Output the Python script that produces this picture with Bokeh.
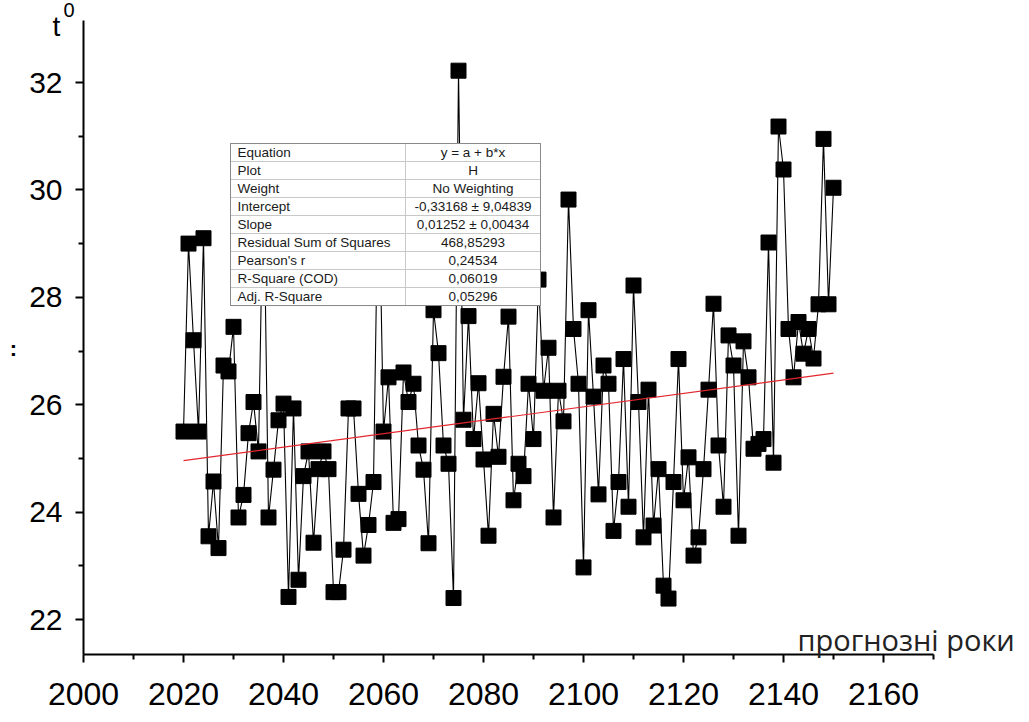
from bokeh.plotting import figure
from bokeh.models import Range1d, Label, FixedTicker
from bokeh.core.properties import value
from bokeh.embed import file_html
from bokeh.resources import INLINE

# ---- data ----
years = list(range(2020, 2151))
temps = [
    25.50, 29.00, 27.20, 25.50, 29.10, 23.55, 24.57, 23.33, 26.73, 26.62,   # 2020-2029
    27.45, 23.90, 24.32, 25.47, 26.05, 25.13, 30.40, 23.90, 24.79, 25.71,   # 2030-2039
    26.02, 22.42, 25.93, 22.74, 24.67, 25.13, 23.43, 24.80, 25.13, 24.80,   # 2040-2049
    22.51, 22.51, 23.30, 25.93, 25.93, 24.34, 23.19, 23.76, 24.56, 30.60,   # 2050-2059
    25.50, 26.51, 23.80, 23.87, 26.60, 26.05, 26.39, 25.24, 24.79, 23.42,   # 2060-2069
    27.76, 26.96, 25.24, 24.90, 22.40, 32.22, 25.72, 27.65, 25.36, 26.40,   # 2070-2079
    24.98, 23.56, 25.83, 25.03, 26.52, 27.64, 24.22, 24.90, 24.67, 26.39,   # 2080-2089
    25.36, 28.33, 26.26, 27.06, 23.90, 26.26, 25.69, 29.82, 27.41, 26.39,   # 2090-2099
    22.97, 27.76, 26.15, 24.33, 26.73, 26.39, 23.65, 24.56, 26.85, 24.10,   # 2100-2109
    28.22, 26.05, 23.53, 26.28, 23.75, 24.80, 22.63, 22.39, 24.56, 26.85,   # 2110-2119
    24.22, 25.02, 23.19, 23.53, 24.80, 26.28, 27.88, 25.24, 24.10, 27.29,   # 2120-2129
    26.73, 23.56, 27.18, 26.51, 25.18, 25.27, 25.36, 29.02, 24.92, 31.18,   # 2130-2139
    30.38, 27.41, 26.51, 27.54, 26.95, 27.41, 26.86, 27.87, 30.95, 27.87,   # 2140-2149
    30.04,                                                                  # 2150
]

# linear fit parameters (from the results table)
intercept = -0.33168
slope = 0.01252

x_ticks = [2000, 2020, 2040, 2060, 2080, 2100, 2120, 2140, 2160]
x_minor = [2010, 2030, 2050, 2070, 2090, 2110, 2130, 2150, 2170]
y_ticks = [22, 24, 26, 28, 30, 32]
y_minor = [23, 25, 27, 29, 31]
x_axis_span = (2000, 2170)
y_axis_span = (21.35, 33.15)

table_labels = ["Equation", "Plot", "Weight", "Intercept", "Slope",
                "Residual Sum of Squares", "Pearson's r", "R-Square (COD)", "Adj. R-Square"]
table_values = ["y = a + b*x", "H", "No Weighting", "-0,33168 ± 9,04839",
                "0,01252 ± 0,00434", "468,85293", "0,24534", "0,06019", "0,05296"]

x_title = "прогнозні роки"
y_title = "t"
y_title_sup = "0"

# ---- figure: frame covers the whole canvas, axes are pinned inside it ----
p = figure(width=1029, height=722, output_backend="svg", toolbar_location=None,
           x_range=Range1d(1983.4, 2189.2), y_range=Range1d(20.082, 33.527),
           min_border=0, min_border_left=0, min_border_right=0,
           min_border_top=0, min_border_bottom=0)
p.background_fill_color = "white"
p.border_fill_color = "white"
p.outline_line_color = None
p.xgrid.visible = False
p.ygrid.visible = False

p.xaxis.ticker = FixedTicker(ticks=x_ticks, minor_ticks=x_minor)
p.yaxis.ticker = FixedTicker(ticks=y_ticks, minor_ticks=y_minor)
p.xaxis.bounds = x_axis_span
p.yaxis.bounds = y_axis_span
p.xaxis.fixed_location = y_axis_span[0]
p.yaxis.fixed_location = x_axis_span[0]
for ax in (p.xaxis[0], p.yaxis[0]):
    ax.axis_line_width = 2
    ax.axis_line_color = "black"
    ax.major_tick_line_width = 2
    ax.minor_tick_line_width = 2
    ax.major_tick_line_color = "black"
    ax.minor_tick_line_color = "black"
    ax.major_tick_out = 8
    ax.major_tick_in = 0
    ax.minor_tick_out = 5
    ax.minor_tick_in = 0
    ax.major_label_text_font = "Liberation Sans"
    ax.major_label_text_color = "black"
p.xaxis.major_label_text_font_size = "32px"
p.yaxis.major_label_text_font_size = "30px"
p.xaxis.major_label_standoff = 21
p.yaxis.major_label_standoff = 13

# data
p.line(years, temps, line_color="black", line_width=1.1)
p.scatter(years, temps, marker="square", size=15, fill_color="black", line_color="black")

# fit line
fx = [years[0], years[-1]]
fy = [intercept + slope * v for v in fx]
p.line(fx, fy, line_color="#e3262d", line_width=1.2)

# results table (drawn on top of the data)
t_left, t_right, t_mid = 2029.4, 2091.4, 2064.4
t_top, t_bottom = 30.864, 27.847
n = len(table_labels)
rh = (t_top - t_bottom) / n
p.quad(left=[t_left], right=[t_right], bottom=[t_bottom], top=[t_top],
       fill_color="white", line_color="#8a8a8a", line_width=1)
row_y = [t_top - rh * (i + 1) for i in range(n - 1)]
p.segment(x0=[t_left] * (n - 1), x1=[t_right] * (n - 1), y0=row_y, y1=row_y,
          line_color="#c8c8c8", line_width=1)
p.segment(x0=[t_mid], x1=[t_mid], y0=[t_bottom], y1=[t_top], line_color="#c8c8c8", line_width=1)
p.quad(left=[t_left], right=[t_right], bottom=[t_bottom], top=[t_top],
       fill_color=None, line_color="#8a8a8a", line_width=1)
cy = [t_top - rh * (i + 0.5) for i in range(n)]
p.text(x=[t_left + 1.4] * n, y=cy, text=table_labels, text_font=value("Liberation Sans"),
       text_font_size=value("13.5px"), text_baseline="middle", text_align="left", text_color="#1a1a1a")
p.text(x=[(t_mid + t_right) / 2] * n, y=cy, text=table_values, text_font=value("Liberation Sans"),
       text_font_size=value("13.5px"), text_baseline="middle", text_align="center", text_color="#1a1a1a")

# axis titles
p.add_layout(Label(x=1993.8, y=33.05, text=y_title, text_font="Liberation Sans", text_font_size="28px",
                   text_color="black", text_baseline="alphabetic", text_align="left"))
p.add_layout(Label(x=1996.0, y=33.35, text=y_title_sup, text_font="Liberation Sans", text_font_size="20px",
                   text_color="black", text_baseline="alphabetic", text_align="left"))
p.add_layout(Label(x=1986.0, y=27.05, text=":", text_font="Liberation Sans", text_font_size="22px",
                   text_color="black", text_baseline="middle", text_align="center", text_font_style="bold"))
p.add_layout(Label(x=2142.8, y=21.62, text=x_title, text_font="Open Sans", text_font_size="29px",
                   text_color="#222222", text_baseline="middle", text_align="left"))

open("out.html", "w").write(file_html(p, INLINE))
